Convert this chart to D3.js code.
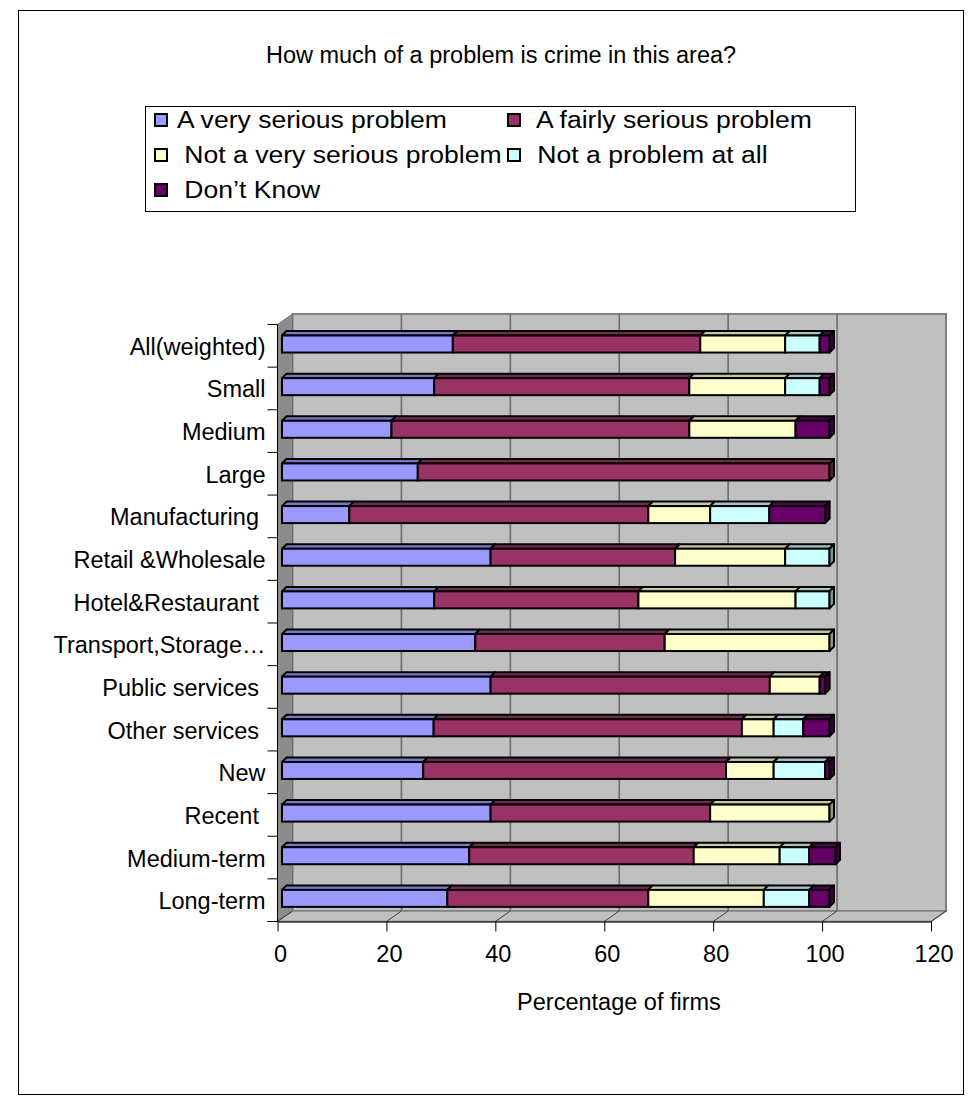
<!DOCTYPE html>
<html>
<head>
<meta charset="utf-8">
<script src="https://cdn.jsdelivr.net/npm/d3@7"></script>
<style>
  body { margin: 0; background: #fff; }
  svg text { font-family: "Liberation Sans", Arial, sans-serif; fill: #000; white-space: pre; }
</style>
</head>
<body>
<svg id="chart" width="980" height="1105"></svg>
<script>
// Survey answers: "How much of a problem is crime in this area?" (percentage of firms)
const categories = [
  "All(weighted)", "Small", "Medium", "Large", "Manufacturing ", "Retail &Wholesale",
  "Hotel&Restaurant ", "Transport,Storage…", "Public services ", "Other services ",
  "New", "Recent ", "Medium-term", "Long-term"
];
const seriesNames = [
  "A very serious problem", " A fairly serious problem", " Not a very serious problem",
  " Not a problem at all", " Don’t Know"
];
const seriesColors = ["#9999ff", "#993366", "#ffffcc", "#ccffff", "#660066"];

const verySerious    = [31.2, 27.8, 20.0, 24.8, 12.3, 38.1, 27.8, 35.3, 38.1, 27.7, 25.8, 38.1, 34.2, 30.2];
const fairlySerious  = [45.2, 46.6, 54.4, 75.2, 54.6, 33.7, 37.3, 34.6, 51.0, 56.3, 55.3, 40.1, 41.0, 36.7];
const notVerySerious = [15.5, 17.5, 19.4, 0, 11.3, 20.1, 28.7, 30.1, 9.1, 5.8, 8.7, 21.8, 15.7, 21.1];
const notAProblem    = [6.3, 6.3, 0, 0, 10.8, 8.1, 6.2, 0, 0, 5.4, 9.4, 0, 5.4, 8.3];
const dontKnow       = [1.8, 1.8, 6.2, 0, 10.2, 0, 0, 0, 1.0, 4.8, 0.8, 0, 4.8, 3.7];

const xTicks = [0, 20, 40, 60, 80, 100, 120];
const chartTitle = "How much of a problem is crime in this area?";
const xAxisTitle = "Percentage of firms";

const series = [verySerious, fairlySerious, notVerySerious, notAProblem, dontKnow];

const svg = d3.select("#chart");

// outer frame
svg.append("rect").attr("x", 18.5).attr("y", 10.5).attr("width", 945).attr("height", 1084)
  .attr("fill", "#fff").attr("stroke", "#000").attr("stroke-width", 1);

// title
svg.append("text").attr("x", 501).attr("y", 63).attr("text-anchor", "middle")
  .style("font-size", "23.5px").text(chartTitle);

// ---- 3D frame geometry ----
const x = d3.scaleLinear().domain([0, 120]).range([277.5, 931]);          // front plane
const y = d3.scaleBand().domain(categories).range([324.5, 921.5]);         // front plane
const DX = 15, DY = -10.5;                                                 // depth offset
const plotTop = y.range()[0], plotBottom = y.range()[1];
const xBar = d3.scaleLinear().domain([0, 120]).range([282, 282 + 120 * 5.475]); // bar plane

const pts = p => p.map(d => d.join(",")).join(" ");

// back wall
svg.append("polygon")
  .attr("points", pts([[x(0) + DX, plotTop + DY], [x(120) + DX, plotTop + DY], [x(120) + DX, plotBottom + DY], [x(0) + DX, plotBottom + DY]]))
  .attr("fill", "#c0c0c0").attr("stroke", "#808080").attr("stroke-width", 2);

// left wall
svg.append("polygon")
  .attr("points", pts([[x(0), plotTop], [x(0) + DX, plotTop + DY], [x(0) + DX, plotBottom + DY], [x(0), plotBottom]]))
  .attr("fill", "#8c8c8c").attr("stroke", "#6e6e6e").attr("stroke-width", 1);

// floor
svg.append("polygon")
  .attr("points", pts([[x(0), plotBottom], [x(120), plotBottom], [x(120) + DX, plotBottom + DY], [x(0) + DX, plotBottom + DY]]))
  .attr("fill", "#c0c0c0").attr("stroke", "#808080").attr("stroke-width", 1.5);

// gridlines on the back wall
svg.append("g").selectAll("line").data(xTicks.slice(1, -1)).join("line")
  .attr("x1", d => x(d) + DX).attr("x2", d => x(d) + DX)
  .attr("y1", plotTop + DY).attr("y2", plotBottom + DY)
  .attr("stroke", "#707070").attr("stroke-width", 1.7);

// depth lines across the floor
svg.append("g").selectAll("line").data(xTicks).join("line")
  .attr("x1", d => x(d)).attr("y1", plotBottom)
  .attr("x2", d => x(d) + DX).attr("y2", plotBottom + DY)
  .attr("stroke", "#404040").attr("stroke-width", 1);

// ---- stacked 3D bars ----
const stackData = categories.map((c, i) => {
  let acc = 0;
  const segs = series.map((s, k) => {
    const seg = { k, x0: acc, x1: acc + s[i] };
    acc += s[i];
    return seg;
  }).filter(s => s.x1 > s.x0);
  return { c, segs };
});

const FH = 17, BDX = 4.5, BDY = 4.5;
const shade = (col, f) => { const c = d3.rgb(col); return d3.rgb(c.r * f, c.g * f, c.b * f).formatHex(); };

const bars = svg.append("g").selectAll("g").data(stackData).join("g");
bars.each(function (row) {
  const g = d3.select(this);
  const fy = y(row.c) + y.bandwidth() / 2 - 10.3;
  row.segs.forEach((s, j) => {
    const a = xBar(s.x0), b = xBar(s.x1);
    g.append("polygon")
      .attr("points", pts([[a, fy], [a + BDX, fy - BDY], [b + BDX, fy - BDY], [b, fy]]))
      .attr("fill", shade(seriesColors[s.k], 0.78)).attr("stroke", "#000").attr("stroke-width", 2)
      .attr("stroke-linejoin", "round");
    g.append("rect").attr("x", a).attr("y", fy).attr("width", b - a).attr("height", FH)
      .attr("fill", seriesColors[s.k]).attr("stroke", "#000").attr("stroke-width", 2);
    if (j === row.segs.length - 1) {
      g.append("polygon")
        .attr("points", pts([[b, fy], [b + BDX, fy - BDY], [b + BDX, fy + FH - BDY], [b, fy + FH]]))
        .attr("fill", shade(seriesColors[s.k], 0.6)).attr("stroke", "#000").attr("stroke-width", 2)
        .attr("stroke-linejoin", "round");
    }
  });
});

// ---- category axis ----
const bounds = categories.map(c => y(c)).concat([plotBottom]);
svg.append("line").attr("x1", x(0)).attr("x2", x(0)).attr("y1", plotTop).attr("y2", plotBottom)
  .attr("stroke", "#000").attr("stroke-width", 1);
svg.append("g").selectAll("line").data(bounds).join("line")
  .attr("x1", x(0) - 10).attr("x2", x(0)).attr("y1", d => d).attr("y2", d => d)
  .attr("stroke", "#000").attr("stroke-width", 1);
svg.append("g").selectAll("text").data(categories).join("text")
  .attr("x", 265.5).attr("y", d => y(d) + y.bandwidth() / 2 + 9)
  .attr("text-anchor", "end").style("font-size", "23.5px").text(d => d);

// ---- value axis ----
const xAxis = d3.axisBottom(x).tickValues(xTicks).tickSize(10).tickSizeOuter(0).tickPadding(0);
const ax = svg.append("g").attr("transform", `translate(0,${plotBottom})`).call(xAxis);
ax.select(".domain").attr("stroke", "#000");
ax.selectAll(".tick line").attr("stroke", "#000");
ax.selectAll(".tick text").attr("y", 40.3).attr("dy", null).attr("dx", 2.5)
  .style("font-size", "23.5px").style("font-family", "'Liberation Sans', Arial, sans-serif").attr("fill", "#000");
svg.append("line").attr("x1", x(0) - 10).attr("x2", x(0)).attr("y1", plotBottom).attr("y2", plotBottom)
  .attr("stroke", "#000");

svg.append("text").attr("x", 619).attr("y", 1010).attr("text-anchor", "middle")
  .style("font-size", "23.5px").text(xAxisTitle);

// ---- legend ----
const legend = svg.append("g");
legend.append("rect").attr("x", 145.5).attr("y", 106.5).attr("width", 710).attr("height", 105)
  .attr("fill", "#fff").attr("stroke", "#000").attr("stroke-width", 1);
const colX = [155, 508], rowY = [120, 155, 190];
const items = legend.selectAll("g.item").data(seriesNames).join("g").attr("class", "item")
  .attr("transform", (d, i) => `translate(${colX[i % 2]},${rowY[Math.floor(i / 2)]})`);
items.append("rect").attr("x", 0).attr("y", -6).attr("width", 12).attr("height", 12)
  .attr("fill", (d, i) => seriesColors[i]).attr("stroke", "#000").attr("stroke-width", 2);
items.append("text").attr("transform", "translate(22,8.4) scale(1.13,1)")
  .style("font-size", "23.5px").text(d => d);
</script>
</body>
</html>
